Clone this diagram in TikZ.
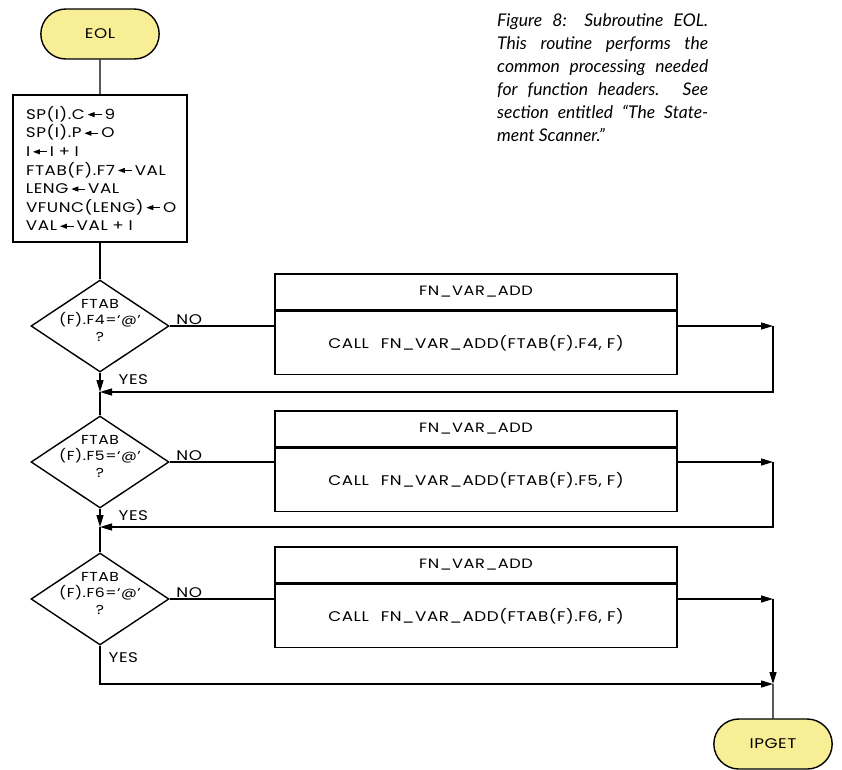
\documentclass[tikz,border=0pt]{standalone}
\usepackage{fontspec}
\newfontfamily\flowfont{Poppins}[FakeStretch=1.2,LetterSpace=4]
\newfontfamily\capfont{Lato}
\usetikzlibrary{arrows.meta,positioning,shapes.geometric,shapes.misc}

\definecolor{termyellow}{RGB}{248,238,150}
\newcommand{\asgn}{\tikz[baseline=-0.6ex]\draw[line width=1pt,-{Triangle[length=7pt,width=5pt]}] (14pt,0pt) -- (0pt,0pt);}

\begin{document}
\begin{tikzpicture}[x=1pt,y=-1pt,
term/.style={rounded rectangle,draw,fill=termyellow,line width=1.4pt,minimum width=125pt,minimum height=50pt,font=\flowfont\fontsize{14}{16}\selectfont},
proc/.style={draw,line width=1.4pt,minimum width=174pt,minimum height=147pt,text width=148pt,inner xsep=13pt,align=left,font=\flowfont\fontsize{14}{18.6}\selectfont},
decision/.style={diamond,draw,line width=1.4pt,minimum width=138pt,minimum height=92pt,inner sep=0pt},
dtext/.style={align=center,inner sep=0pt,font=\flowfont\fontsize{13}{16.5}\selectfont},
hdr/.style={draw,line width=1.4pt,minimum width=402pt,minimum height=36pt,font=\flowfont\fontsize{13.5}{15}\selectfont},
callbox/.style={draw,line width=1.4pt,minimum width=402pt,minimum height=63pt,font=\flowfont\fontsize{14}{15}\selectfont},
lbl/.style={inner sep=1pt,font=\flowfont\fontsize{14}{15}\selectfont},
caption/.style={anchor=north west,text width=211pt,align=justify,inner sep=0pt,font=\capfont\itshape\fontsize{17.5}{23}\selectfont},
conn/.style={line width=1.4pt},
flow/.style={-{Triangle[length=12pt,width=7pt]},line width=1.4pt}]

\useasboundingbox (0,0) rectangle (842,769);

\node[caption] (cap) at (497,13) {Figure 8: Subroutine EOL.\linebreak
This routine performs the\linebreak
common processing needed\linebreak
for function headers. See\linebreak
section entitled “The State-\linebreak
ment Scanner.”};

\node[term] (eol) at (100,34) {EOL};

\node[proc] (init) at (100,168.5) {SP(I).C\,\asgn\,9\\
SP(I).P\,\asgn\,O\\
I\,\asgn\,I + I\\
FTAB(F).F7\,\asgn\,VAL\\
LENG\,\asgn\,VAL\\
VFUNC(LENG)\,\asgn\,O\\
VAL\,\asgn\,VAL + I};

% decisions
\node[decision] (dA) at (100,326) {};
\node[dtext] (qA) at ([yshift=6pt]dA.center) {FTAB\\(F).F4=‘@’\\?};
\node[decision] (dB) at (100,462) {};
\node[dtext] (qB) at ([yshift=6pt]dB.center) {FTAB\\(F).F5=‘@’\\?};
\node[decision] (dC) at (100,599) {};
\node[dtext] (qC) at ([yshift=6pt]dC.center) {FTAB\\(F).F6=‘@’\\?};

% calls
\node[hdr] (hA) at (476,292) {FN\_VAR\_ADD};
\node[callbox,below=0pt of hA] (cA) {CALL\hspace{0.5em} FN\_VAR\_ADD(FTAB(F).F4, F)};
\node[hdr] (hB) at (476,429) {FN\_VAR\_ADD};
\node[callbox,below=0pt of hB] (cB) {CALL\hspace{0.5em} FN\_VAR\_ADD(FTAB(F).F5, F)};
\node[hdr] (hC) at (476,565) {FN\_VAR\_ADD};
\node[callbox,below=0pt of hC] (cC) {CALL\hspace{0.5em} FN\_VAR\_ADD(FTAB(F).F6, F)};

\node[term] (ipget) at (773,744) {IPGET};

\coordinate (rA) at (773,326);
\coordinate (jA) at (100,392);
\coordinate (rB) at (773,462);
\coordinate (jB) at (100,527);
\coordinate (rC) at (773,599);
\coordinate (jC) at (773,684);

\draw[conn] (eol) -- (init);
\draw[conn] (init) -- (dA);

\draw[conn] (dA.east) node[lbl,anchor=south west,xshift=5pt]{NO} -- (dA.east -| cA.west);
\draw[flow] (dA.east -| cA.east) -- (rA);
\draw[flow] (rA) |- (jA);
\draw[flow] (dA.south) node[lbl,anchor=north west,xshift=17pt]{YES} -- (jA);
\draw[conn] (jA) -- (dB);

\draw[conn] (dB.east) node[lbl,anchor=south west,xshift=5pt]{NO} -- (dB.east -| cB.west);
\draw[flow] (dB.east -| cB.east) -- (rB);
\draw[flow] (rB) |- (jB);
\draw[flow] (dB.south) node[lbl,anchor=north west,xshift=17pt]{YES} -- (jB);
\draw[conn] (jB) -- (dC);

\draw[conn] (dC.east) node[lbl,anchor=south west,xshift=5pt]{NO} -- (dC.east -| cC.west);
\draw[flow] (dC.east -| cC.east) -- (rC);
\draw[flow] (rC) -- (jC);
\draw[flow] (dC.south) node[lbl,anchor=north west,xshift=7pt,yshift=-5pt]{YES} |- (jC);
\draw[conn] (jC) -- (ipget);

\end{tikzpicture}
\end{document}
